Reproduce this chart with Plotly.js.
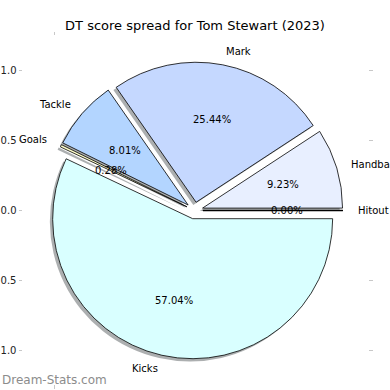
<!DOCTYPE html>
<html>
<head>
<meta charset="utf-8">
<script src="https://cdn.plot.ly/plotly-3.0.1.min.js"></script>
<style>
html,body{margin:0;padding:0;background:#fff;}
#chart{width:390px;height:390px;}
</style>
</head>
<body>
<div id="chart"></div>
<script>
// ---- data ----
const labels = ['Hitout', 'Handball', 'Mark', 'Tackle', 'Goals', 'Kicks'];
const values = [0.00, 9.23, 25.44, 8.01, 0.28, 57.04];
const colors = ['#f0f0ff', '#e8efff', '#c5d8ff', '#b3d5ff', '#ffffcc', '#d9ffff'];
const yTickVals = [1.0, 0.5, 0.0, -0.5, -1.0];
const yTickText = ['1.0', '0.5', '0.0', '\u22120.5', '\u22121.0'];
const xTickVals = [-1.0];
const xTickText = ['\u22121.0'];
const titleText = 'DT score spread for Tom Stewart (2023)';

// ---- style / layout constants ----
const PULL = 0.06;
const FONT = 'DejaVu Sans, sans-serif';
const W = 390, H = 390;
const M = {l: 23, r: 22, t: 36, b: 6};
const plotW = W - M.l - M.r, plotH = H - M.t - M.b;
const R = 140; // pixels per unit radius
const cxPx = 194.5 - M.l, cyPx = 210.5 - M.t; // pie centre inside plot area
const xRange = [-cxPx / R, (plotW - cxPx) / R];
const yRange = [-(plotH - cyPx) / R, cyPx / R];
const half = R * (1 + PULL);
const domX = [(cxPx - half) / plotW, (cxPx + half) / plotW];
const domY = [(plotH - cyPx - half) / plotH, (plotH - cyPx + half) / plotH];
const sh = 2.8; // shadow offset px

const total = values.reduce((a, b) => a + b, 0);
const annotations = [];
const extraTraces = [];
let cum = 0;
values.forEach((v, i) => {
  const t1 = cum / total * 360;
  cum += v;
  const t2 = cum / total * 360;
  const tm = (t1 + t2) / 2 * Math.PI / 180;
  const c = Math.cos(tm), s = Math.sin(tm);
  const ox = PULL * c, oy = PULL * s;
  const lx = ox + 1.1 * c, ly = oy + 1.1 * s;
  annotations.push({
    x: lx, y: ly, xref: 'x', yref: 'y', text: labels[i], showarrow: false,
    xanchor: lx > 0 ? 'left' : 'right', yanchor: 'middle', borderpad: 0,
    font: {family: FONT, size: 10, color: '#000'}
  });
  annotations.push({
    x: ox + 0.6 * c, y: oy + 0.6 * s, xref: 'x', yref: 'y',
    text: (v / total * 100).toFixed(2) + '%', showarrow: false,
    xanchor: 'center', yanchor: 'middle',
    font: {family: FONT, size: 10, color: '#000'}
  });
  if (v === 0) {
    // zero-size wedge still shows its two edge lines
    extraTraces.push({
      type: 'scatter', mode: 'lines', x: [ox, ox + c], y: [oy, oy + s],
      line: {color: '#000', width: 1.4}, hoverinfo: 'skip', showlegend: false
    });
  }
});

annotations.push({
  x: -M.l / plotW, y: 4 / plotH, xref: 'paper', yref: 'paper',
  text: 'Dream-Stats.com', showarrow: false, xanchor: 'left', yanchor: 'middle',
  font: {family: FONT, size: 12, color: '#8c8c8c'}
});

const shadowTrace = {
  type: 'pie', labels: labels, values: values, sort: false,
  direction: 'counterclockwise', rotation: 90,
  pull: values.map(() => PULL),
  marker: {colors: values.map(() => 'rgba(70,78,80,0.45)'), line: {width: 0}},
  textinfo: 'none', hoverinfo: 'skip', showlegend: false,
  domain: {x: [domX[0] - sh / plotW, domX[1] - sh / plotW], y: [domY[0] - sh / plotH, domY[1] - sh / plotH]}
};

const pieTrace = {
  type: 'pie', labels: labels, values: values, sort: false,
  direction: 'counterclockwise', rotation: 90,
  pull: values.map(() => PULL),
  marker: {colors: colors, line: {color: '#000', width: 0.8}},
  textinfo: 'none', showlegend: false,
  domain: {x: domX, y: domY}
};

const axisTrace = {type: 'scatter', x: [], y: [], showlegend: false, hoverinfo: 'skip'};

const layout = {
  width: W, height: H,
  margin: M,
  paper_bgcolor: '#fff', plot_bgcolor: 'rgba(0,0,0,0)',
  showlegend: false,
  title: {
    text: titleText, x: 0.5, xref: 'container', xanchor: 'center',
    y: 1 - 25 / H, yref: 'container', yanchor: 'middle',
    font: {family: FONT, size: 13, color: '#000'}
  },
  xaxis: {
    range: xRange, showgrid: false, zeroline: false, showline: false,
    ticks: 'outside', ticklen: 3.5, tickwidth: 1, tickcolor: '#c8c8c8', mirror: 'ticks',
    tickvals: xTickVals, ticktext: xTickText,
    tickfont: {family: FONT, size: 10, color: '#222'}, fixedrange: true
  },
  yaxis: {
    range: yRange, showgrid: false, zeroline: false, showline: false,
    ticks: 'outside', ticklen: 3.5, tickwidth: 1, tickcolor: '#c8c8c8', mirror: 'ticks',
    tickvals: yTickVals, ticktext: yTickText,
    tickfont: {family: FONT, size: 10, color: '#222'}, fixedrange: true
  },
  annotations: annotations
};

Plotly.newPlot('chart', [axisTrace].concat(extraTraces, [shadowTrace, pieTrace]), layout, {displayModeBar: false, staticPlot: true});
</script>
</body>
</html>
